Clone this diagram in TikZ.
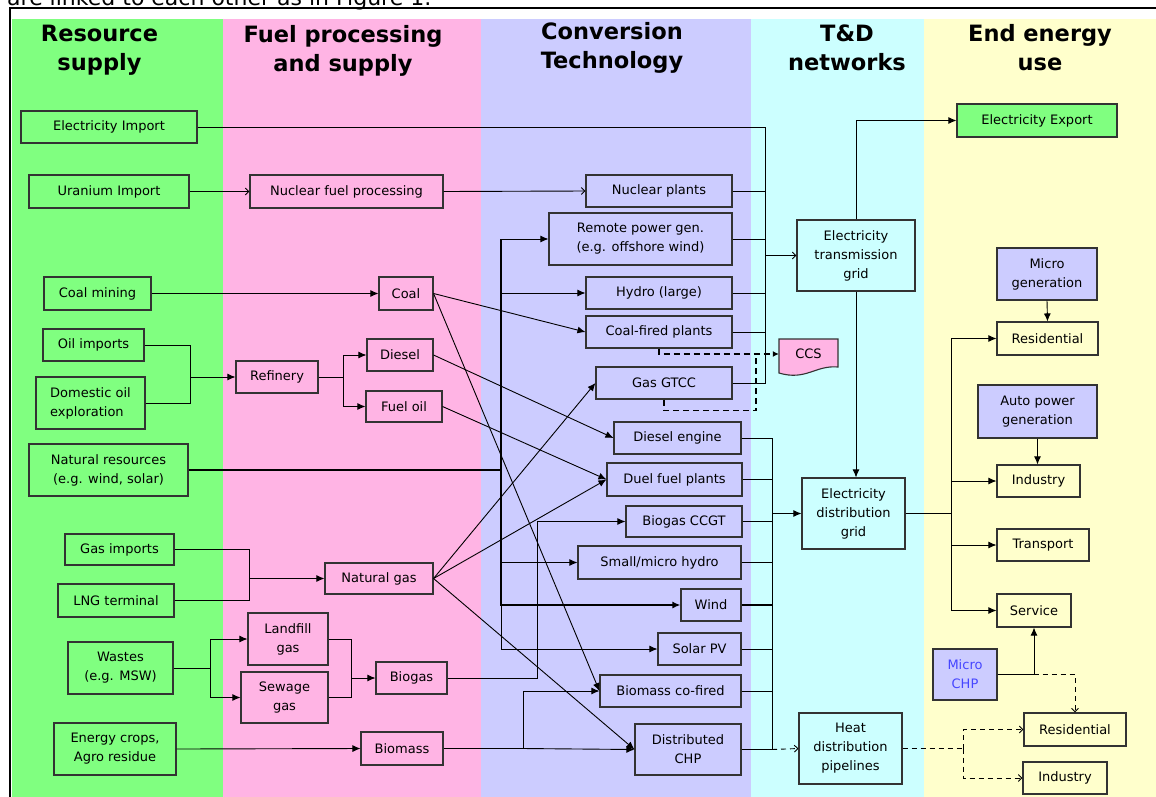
\documentclass[tikz,border=0pt]{standalone}
\usepackage{fontspec}
\setmainfont{DejaVu Sans}
\usepackage{xcolor}
\usetikzlibrary{positioning, arrows.meta, calc}

\definecolor{resgreen}{RGB}{128,255,128}
\definecolor{fuelpink}{RGB}{255,180,228}
\definecolor{convblue}{RGB}{204,204,255}
\definecolor{tdcyan}{RGB}{204,255,255}
\definecolor{endyellow}{RGB}{255,255,204}
\definecolor{chpblue}{RGB}{70,70,255}

\begin{document}
\begin{tikzpicture}[
  x=1pt, y=-1pt,
  every node/.style={font=\fontsize{13}{19}\selectfont},
  heading/.style={font=\fontsize{22.5}{29}\selectfont\bfseries, align=center},
  flowbox/.style={draw=black!80, line width=1.1pt, align=center, inner sep=2pt},
  resbox/.style={flowbox, fill=resgreen},
  fuelbox/.style={flowbox, fill=fuelpink},
  convbox/.style={flowbox, fill=convblue},
  tdbox/.style={flowbox, fill=tdcyan},
  endbox/.style={flowbox, fill=endyellow},
  genbox/.style={flowbox, fill=convblue},
  link/.style={line width=0.9pt},
  fa/.style={link, -{Latex[length=8pt,width=7pt]}},
  oa/.style={link, -{Straight Barb[length=3.5pt,width=7pt]}},
  heavy/.style={line width=2pt},
  ccsdash/.style={line width=1.8pt, dash pattern=on 6pt off 4pt},
  heatdash/.style={line width=0.9pt, dash pattern=on 5pt off 4pt}
]
\useasboundingbox (0,0) rectangle (1156,796);

% ---- Column backgrounds ----
\fill[resgreen]  (12,19) rectangle (223,800);
\fill[fuelpink]  (223,19) rectangle (481,800);
\fill[convblue]  (481,19) rectangle (751,800);
\fill[tdcyan]    (751,19) rectangle (924,800);
\fill[endyellow] (924,19) rectangle (1160,800);
\draw[line width=2.2pt] (10,802) -- (10,8) -- (1160,8);

% ---- Cut-off text line above the frame ----
\node[anchor=base west, font=\fontsize{22}{24}\selectfont, inner sep=0pt] (caption)
  at (7,5) {are linked to each other as in Figure 1.};

% ---- Column headings ----
\node[heading] (hres)  at (99.5,50.5) {Resource\\supply};
\node[heading] (hfuel) at (343,50.5)  {Fuel processing\\and supply};
\node[heading] (hconv) at (612,47.5)  {Conversion\\Technology};
\node[heading] (htd)   at (847,47.5)  {T\&D\\networks};
\node[heading] (hend)  at (1040,47.5) {End energy\\use};

% ---- Resource supply ----
\node[resbox, minimum width=176, minimum height=32] (elecimp)  at (109,127)   {Electricity Import};
\node[resbox, minimum width=160, minimum height=33] (uranium)  at (109,191.5) {Uranium Import};
\node[resbox, minimum width=107, minimum height=33] (coalmine) at (97.5,293.5) {Coal mining};
\node[resbox, minimum width=101, minimum height=32] (oilimp)   at (93.5,345)  {Oil imports};
\node[resbox, minimum width=109, minimum height=52, align=left] (domoil) at (90.5,403)
  {Domestic oil\\exploration};
\node[resbox, minimum width=159, minimum height=52] (natres)   at (108.5,470)
  {Natural resources\\(e.g. wind, solar)};
\node[resbox, minimum width=109, minimum height=31] (gasimp)   at (119.5,549.5) {Gas imports};
\node[resbox, minimum width=116, minimum height=33] (lng)      at (116,600.5) {LNG terminal};
\node[resbox, minimum width=105, minimum height=52] (wastes)   at (120.5,668) {Wastes\\(e.g. MSW)};
\node[resbox, minimum width=122, minimum height=52] (crops)    at (115,749)
  {Energy crops,\\Agro residue};

% ---- Fuel processing and supply ----
\node[fuelbox, minimum width=193, minimum height=33] (nfp)      at (346.5,191.5) {Nuclear fuel processing};
\node[fuelbox, minimum width=54,  minimum height=33] (coal)     at (406,293.5) {Coal};
\node[fuelbox, minimum width=82,  minimum height=32] (refinery) at (277,377)   {Refinery};
\node[fuelbox, minimum width=66,  minimum height=32] (diesel)   at (400,355)   {Diesel};
\node[fuelbox, minimum width=76,  minimum height=31] (fueloil)  at (404,406.5) {Fuel oil};
\node[fuelbox, minimum width=108, minimum height=31] (natgas)   at (379,578.5) {Natural gas};
\node[fuelbox, minimum width=80,  minimum height=52] (landfill) at (288,639)   {Landfill\\gas};
\node[fuelbox, minimum width=87,  minimum height=51] (sewage)   at (284.5,697.5) {Sewage\\gas};
\node[fuelbox, minimum width=71,  minimum height=32] (biogas)   at (411.5,678) {Biogas};
\node[fuelbox, minimum width=82,  minimum height=33] (biomass)  at (402,748.5) {Biomass};

% ---- Conversion technology ----
\node[convbox, minimum width=146, minimum height=32] (nuclear)    at (659,191)   {Nuclear plants};
\node[convbox, minimum width=183, minimum height=52] (remote)     at (640.5,239)
  {Remote power gen.\\(e.g. offshore wind)};
\node[convbox, minimum width=146, minimum height=32] (hydro)      at (659,293)   {Hydro (large)};
\node[convbox, minimum width=146, minimum height=32] (coalfired)  at (659,332)   {Coal-fired plants};
\node[convbox, minimum width=136, minimum height=32] (gtcc)       at (664,383)   {Gas GTCC};
\node[convbox, minimum width=127, minimum height=32] (dieseleng)  at (677.5,438) {Diesel engine};
\node[convbox, minimum width=135, minimum height=33] (duel)       at (674.5,479.5) {Duel fuel plants};
\node[convbox, minimum width=116, minimum height=31] (bioccgt)    at (684,521.5) {Biogas CCGT};
\node[convbox, minimum width=163, minimum height=33] (smallhydro) at (659.5,562.5) {Small/micro hydro};
\node[convbox, minimum width=60,  minimum height=32] (wind)       at (711,605)   {Wind};
\node[convbox, minimum width=83,  minimum height=32] (solar)      at (699.5,649) {Solar PV};
\node[convbox, minimum width=141, minimum height=32] (biocof)     at (670.5,691) {Biomass co-fired};
\node[convbox, minimum width=106, minimum height=51] (dchp)       at (688,749.5) {Distributed\\CHP};

% ---- T&D networks ----
\node[tdbox, minimum width=118, minimum height=71] (transgrid) at (856,255.5)
  {Electricity\\transmission\\grid};
\draw[draw=black!80, line width=1.1pt, fill=fuelpink]
  (779,339) -- (838,339) -- (838,367) .. controls (815,365) and (806,381) .. (779,373) -- cycle;
\node[minimum width=59, minimum height=30] (ccs) at (808.5,354) {CCS};
\node[tdbox, minimum width=103, minimum height=71] (distgrid) at (853.5,513.5)
  {Electricity\\distribution\\grid};
\node[tdbox, minimum width=103, minimum height=71] (heat) at (850.5,748.5)
  {Heat\\distribution\\pipelines};

% ---- End energy use ----
\node[resbox, minimum width=160, minimum height=33] (export)    at (1037,120.5) {Electricity Export};
\node[genbox, minimum width=100, minimum height=52] (microgen)  at (1047,274)   {Micro\\generation};
\node[endbox, minimum width=101, minimum height=33] (res1)      at (1047.5,338.5) {Residential};
\node[genbox, minimum width=119, minimum height=53] (autogen)   at (1037.5,411.5) {Auto power\\generation};
\node[endbox, minimum width=83,  minimum height=32] (ind1)      at (1038.5,481) {Industry};
\node[endbox, minimum width=92,  minimum height=32] (transport) at (1043,545)   {Transport};
\node[endbox, minimum width=74,  minimum height=33] (service)   at (1034,610.5) {Service};
\node[genbox, minimum width=64,  minimum height=51, text=chpblue] (microchp) at (965,674.5) {Micro\\CHP};
\node[endbox, minimum width=102, minimum height=33] (res2)      at (1075,729.5) {Residential};
\node[endbox, minimum width=84,  minimum height=32] (ind2)      at (1065,778)   {Industry};

% ---- Junction points ----
\coordinate (tbus) at (765,255.5);
\coordinate (oilj) at (190,377);
\coordinate (refj) at (343,377);
\coordinate (nrbus) at (501,470);
\coordinate (bgj) at (537,678);
\coordinate (bmj) at (523,748.5);
\coordinate (wj) at (210,668);
\coordinate (lsj) at (351,678);
\coordinate (gj) at (249,578.5);
\coordinate (ccsj) at (756,354);
\coordinate (dbus) at (772,513.5);
\coordinate (eubus) at (951,513.5);
\coordinate (hj) at (963,748.5);

% ---- Resource supply to fuel processing ----
\draw[oa] (uranium.east) -- (nfp.west);
\draw[fa] (coalmine.east) -- (coal.west);
\draw[link] (oilimp.east) -| (oilj);
\draw[link] (domoil.east) -| (oilj);
\draw[fa] (oilj) -- (refinery.west);
\draw[link] (refinery.east) -- (refj);
\draw[fa] (refj) |- (diesel.west);
\draw[fa] (refj) |- (fueloil.west);
\draw[link] (gasimp.east) -| (gj);
\draw[link] (lng.east) -| (gj);
\draw[fa] (gj) -- (natgas.west);
\draw[link] (wastes.east) -- (wj);
\draw[fa] (wj) |- (landfill.west);
\draw[fa] (wj) |- (sewage.west);
\draw[link] (landfill.east) -| (lsj);
\draw[link] (sewage.east) -| (lsj);
\draw[fa] (lsj) -- (biogas.west);
\draw[fa] (crops.east) -- (biomass.west);

% ---- Fuels to conversion technology ----
\draw[oa] (nfp.east) -- (nuclear.west);
\draw[fa] (coal.east) -- (coalfired.west);
\draw[fa] (coal.east) -- (biocof.west);
\draw[fa] (diesel.east) -- (dieseleng.west);
\draw[fa] (fueloil.east) -- (duel.west);
\draw[fa] (natgas.east) -- (gtcc.west);
\draw[fa] (natgas.east) -- (duel.west);
\draw[fa] (natgas.east) -- (dchp.west);
\draw[fa] (biogas.east) -- (bgj) |- (bioccgt.west);
\draw[link] (biomass.east) -- (bmj);
\draw[fa] (bmj) |- (biocof.west);
\draw[fa] (bmj) -- (dchp.west);

% ---- Natural resources bus ----
\draw[heavy] (natres.east) -- (nrbus);
\draw[heavy] (nrbus |- remote.west) -- (nrbus |- wind.west);
\draw[fa] (nrbus) |- (remote.west);
\draw[fa] (nrbus) |- (hydro.west);
\draw[fa] (nrbus) |- (smallhydro.west);
\draw[fa, heavy] (nrbus) |- (wind.west);
\draw[fa] (nrbus) |- (solar.west);

% ---- Transmission grid bus ----
\draw[link] (elecimp.east) -| (tbus);
\draw[link] (nuclear.east) -| (tbus);
\draw[link] (remote.east) -| (tbus);
\draw[link] (hydro.east) -| (tbus);
\draw[link] (coalfired.east) -| (tbus);
\draw[link] (gtcc.east) -| (tbus);
\draw[oa] (tbus) -- (transgrid.west);

% ---- Carbon capture ----
\draw[ccsdash] (gtcc.south) -- ++(0,11) -| (ccsj);
\draw[ccsdash, -{Latex[length=6pt,width=6pt]}] (coalfired.south) |- (ccs.west);

% ---- Distribution grid bus ----
\draw[link] (dieseleng.east) -| (dbus);
\draw[link] (duel.east) -| (dbus);
\draw[link] (bioccgt.east) -| (dbus);
\draw[link] (smallhydro.east) -| (dbus);
\draw[heavy] (wind.east) -- (dbus |- wind.east);
\draw[link] (wind.east) -| (dbus);
\draw[link] (solar.east) -| (dbus);
\draw[link] (biocof.east) -| (dbus);
\draw[link] (dchp.east) -| (dbus);
\draw[fa] (dbus) -- (distgrid.west);
\draw[heatdash, oa] (dbus |- dchp.east) -- (heat.west);

% ---- Networks to end use ----
\draw[fa] (transgrid.north) |- (export.west);
\draw[fa] (transgrid.south) -- (transgrid.south |- distgrid.north);
\draw[link] (distgrid.east) -- (eubus);
\draw[fa] (eubus) |- (res1.west);
\draw[fa] (eubus) |- (ind1.west);
\draw[fa] (eubus) |- (transport.west);
\draw[fa] (eubus) |- (service.west);
\draw[fa] (microgen.south) -- (res1.north);
\draw[fa] (autogen.south) -- (autogen.south |- ind1.north);
\draw[heatdash, oa] (microchp.east) -| (res2.north);
\draw[fa] (microchp.east) -| (service.south);
\draw[heatdash] (heat.east) -- (hj);
\draw[heatdash, oa] (hj) |- (res2.west);
\draw[heatdash, oa] (hj) |- (ind2.west);

\end{tikzpicture}
\end{document}
